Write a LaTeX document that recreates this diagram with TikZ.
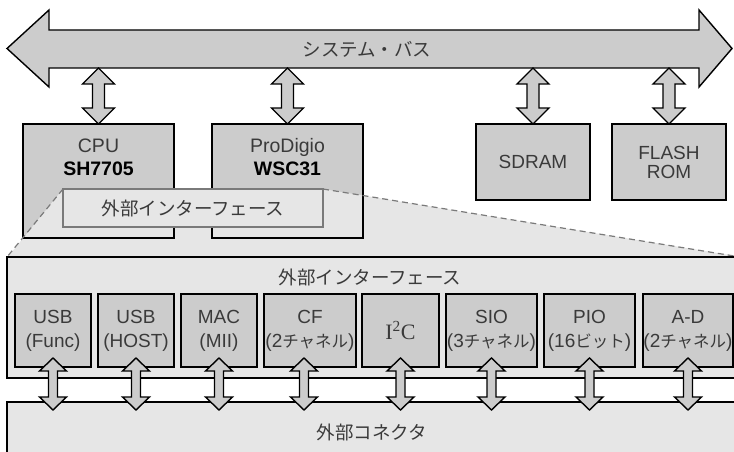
\documentclass[tikz,border=0pt]{standalone}
\usepackage{fontspec}
\setmainfont{Liberation Sans}
\newfontfamily\jp{Noto Sans CJK JP}
\newfontfamily\trfont{Liberation Serif}
\usetikzlibrary{calc}
\definecolor{boxgray}{HTML}{CCCCCC}
\definecolor{panelgray}{HTML}{E6E6E6}
\definecolor{txt}{HTML}{3A3A3A}
\definecolor{dashgray}{HTML}{7A7A7A}
\newcommand\jk[1]{{\jp\fontsize{16.5}{24}\selectfont #1}}
\newcommand\vdarrow[5]{%
  \draw[blk] let \p1=(#1), \p2=(#2) in
    (\x1,\y1) -- (\x1+#3,\y1-#5) -- (\x1+#4,\y1-#5) -- (\x1+#4,\y2+#5) -- (\x1+#3,\y2+#5) -- (\x1,\y2)
    -- (\x1-#3,\y2+#5) -- (\x1-#4,\y2+#5) -- (\x1-#4,\y1-#5) -- (\x1-#3,\y1-#5) -- cycle;}
\tikzset{
  blk/.style={draw=black, fill=boxgray, line width=1.4pt, line join=miter},
  darkbox/.style={rectangle, draw=black, fill=boxgray, line width=1.4pt, outer sep=0pt, inner sep=0pt,
    anchor=north west, text=txt, align=center, font=\fontsize{19}{24}\selectfont},
  panel/.style={rectangle, draw=black, fill=panelgray, line width=1.4pt, outer sep=0pt, inner sep=0pt, anchor=north west},
  jplbl/.style={text=txt, font=\jp\fontsize{18.5}{22}\selectfont, inner sep=0pt},
  latlbl/.style={text=txt, align=center, inner sep=0pt},
  ifbox/.style={rectangle, draw=dashgray, fill=panelgray, line width=1.3pt, outer sep=0pt, inner sep=0pt, anchor=north west},
  zoomline/.style={draw=dashgray, line width=1.2pt, dash pattern=on 6pt off 4pt},
}
\begin{document}
\begin{tikzpicture}[x=1pt,y=-1pt]
\useasboundingbox (0,0) rectangle (734,452);
\clip (0,0) rectangle (734,452);

% system bus
\draw[blk] (7,48.5) -- (49,10) -- (49,30) -- (699,30) -- (699,10) -- (732,48.5) -- (699,87) -- (699,68) -- (49,68) -- (49,87) -- cycle;
\node[jplbl] (bus) at (367,49) {システム・バス};
\coordinate (busS) at (367,68);

% upper boxes
\node[darkbox, minimum width=151pt, minimum height=114pt] (cpu) at (23,124) {};
\node[darkbox, minimum width=151pt, minimum height=114pt] (pro) at (212,124) {};
\node[darkbox, minimum width=114pt, minimum height=76pt] (sdram) at (476,124) {SDRAM};
\node[darkbox, minimum width=114pt, minimum height=76pt, font=\fontsize{19}{19}\selectfont] (flash) at (612,124) {FLASH\\ROM};

% zoom trapezoid
\fill[panelgray] (63,189) -- (323,189) -- (736,256) -- (736,258) -- (7,258) -- cycle;
\draw[line width=1.4pt] (cpu.north west) rectangle (cpu.south east);
\draw[line width=1.4pt] (pro.north west) rectangle (pro.south east);
\node[latlbl, font=\fontsize{19.5}{23}\selectfont] (cputxt) at (98.5,157) {CPU\\{\color{black}\textbf{SH7705}}};
\node[latlbl, font=\fontsize{19.5}{23}\selectfont] (protxt) at (287.5,157) {ProDigio\\{\color{black}\textbf{WSC31}}};
\node[ifbox, minimum width=260pt, minimum height=38pt] (ifs) at (63,189) {};
\draw[zoomline] (ifs.north west) -- (7,257);
\draw[zoomline] (ifs.north east) -- (734,256);
\node[jplbl] (ifstxt) at (ifs.center) {外部インターフェース};

% bus arrows
\vdarrow{cpu.north |- busS}{cpu.north}{16pt}{6pt}{16pt}
\vdarrow{pro.north |- busS}{pro.north}{16pt}{6pt}{16pt}
\vdarrow{sdram.north |- busS}{sdram.north}{16pt}{6pt}{16pt}
\vdarrow{flash.north |- busS}{flash.north}{16pt}{6pt}{16pt}

% lower panels
\node[panel, minimum width=740pt, minimum height=121pt] (ifp) at (7,257) {};
\node[jplbl] (ifptxt) at (370,277) {外部インターフェース};
\node[panel, minimum width=740pt, minimum height=80pt] (conn) at (7,402) {};
\node[jplbl] (conntxt) at (372,432) {外部コネクタ};

% interface blocks
\node[darkbox, minimum width=76pt, minimum height=73pt] (b1) at (15,294) {USB\\(Func)};
\node[darkbox, minimum width=76pt, minimum height=73pt] (b2) at (98,294) {USB\\(HOST)};
\node[darkbox, minimum width=76pt, minimum height=73pt] (b3) at (181,294) {MAC\\(MII)};
\node[darkbox, minimum width=92pt, minimum height=73pt] (b4) at (264,294) {CF\\(2\jk{チャネル})};
\node[darkbox, minimum width=77pt, minimum height=73pt, font=\fontsize{22}{24}\selectfont] (b5) at (362,294) {{\trfont I\textsuperscript{2}C}};
\node[darkbox, minimum width=91pt, minimum height=73pt] (b6) at (446,294) {SIO\\(3\jk{チャネル})};
\node[darkbox, minimum width=91pt, minimum height=73pt] (b7) at (544,294) {PIO\\(16\jk{ビット})};
\node[darkbox, minimum width=90pt, minimum height=73pt] (b8) at (643,294) {A-D\\(2\jk{チャネル})};

% interface arrows
\foreach \b/\dx in {b1/0,b2/0,b3/0,b4/-6,b5/0,b6/0,b7/0,b8/0}{
  \vdarrow{$(\b.south)+(\dx,-9)$}{$(\b.south |- conn.north)+(\dx,8)$}{13.5pt}{4.5pt}{13pt}
}
\end{tikzpicture}
\end{document}
